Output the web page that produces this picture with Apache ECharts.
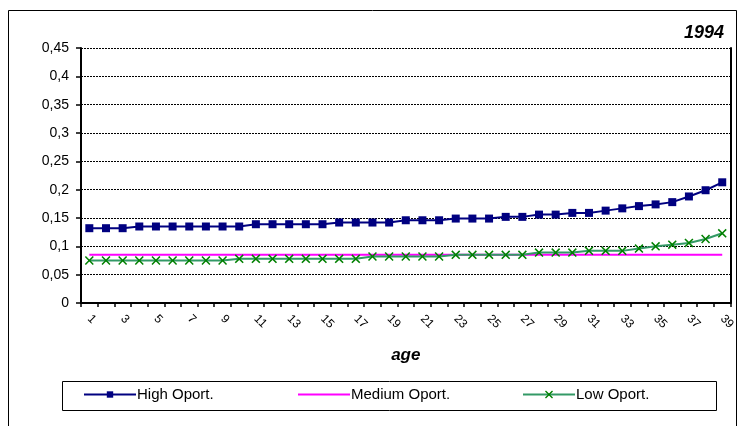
<!DOCTYPE html>
<html>
<head>
<meta charset="utf-8">
<script src="https://cdn.jsdelivr.net/npm/echarts@6/dist/echarts.min.js"></script>
<style>html,body{margin:0;padding:0;background:#fff}#c{width:738px;height:426px}</style>
</head>
<body>
<div id="c"></div>
<script>
var ages = [];
for (var i = 1; i <= 39; i++) ages.push(String(i));
var yTicks = [0, 0.05, 0.1, 0.15, 0.2, 0.25, 0.3, 0.35, 0.4, 0.45];
var highOport = [0.132,0.132,0.132,0.135,0.135,0.135,0.135,0.135,0.135,0.135,
  0.139,0.139,0.139,0.139,0.139,0.142,0.142,0.142,0.142,0.146,
  0.146,0.146,0.149,0.149,0.149,0.152,0.152,0.156,0.156,0.159,
  0.159,0.163,0.167,0.171,0.174,0.178,0.188,0.199,0.213];
var mediumOport = [0.085,0.085,0.085,0.085,0.085,0.085,0.085,0.085,0.085,0.085,
  0.085,0.085,0.085,0.085,0.085,0.085,0.085,0.085,0.085,0.085,
  0.085,0.085,0.085,0.085,0.085,0.085,0.085,0.085,0.085,0.085,
  0.085,0.085,0.085,0.085,0.085,0.085,0.085,0.085,0.085];
var lowOport = [0.075,0.075,0.075,0.075,0.075,0.075,0.075,0.075,0.075,0.078,
  0.078,0.078,0.078,0.078,0.078,0.078,0.078,0.082,0.082,0.082,
  0.082,0.082,0.085,0.085,0.085,0.085,0.085,0.089,0.089,0.089,
  0.092,0.092,0.092,0.096,0.100,0.103,0.106,0.113,0.123];

var xPath = 'path://M0,1.2 L1.2,0 L5,3.8 L8.8,0 L10,1.2 L6.2,5 L10,8.8 L8.8,10 L5,6.2 L1.2,10 L0,8.8 L3.8,5 Z';
var chart = echarts.init(document.getElementById('c'), null, {renderer: 'canvas'});
var font = 'Arial, "Liberation Sans", sans-serif';
var legText = {fontSize: 15, color: '#000', fontFamily: font, padding: [0,0,0,-4]};
chart.setOption({
  animation: false,
  backgroundColor: '#fff',
  textStyle: {fontFamily: font},
  title: {
    text: '1994', right: 9, top: 19,
    textStyle: {fontSize: 18, fontWeight: 'bold', fontStyle: 'italic', color: '#000', fontFamily: font}
  },
  graphic: [
    {type: 'rect', shape: {x: 8.5, y: 10.5, width: 728, height: 440}, style: {fill: 'none', stroke: '#000', lineWidth: 1}, silent: true},
    {type: 'rect', shape: {x: 62.5, y: 381.5, width: 654, height: 29}, style: {fill: 'none', stroke: '#000', lineWidth: 1}, silent: true}
  ],
  legend: [
    {data: ['High Oport.'], left: 83, top: 387, itemWidth: 52, itemHeight: 8, itemGap: 0, padding: 0, textStyle: legText},
    {data: [{name: 'Medium Oport.', icon: 'rect'}], left: 298, top: 387, itemWidth: 52, itemHeight: 2, itemGap: 0, padding: 0, textStyle: legText},
    {data: ['Low Oport.'], left: 522, top: 387, itemWidth: 52, itemHeight: 10, itemGap: 0, padding: 0, textStyle: legText}
  ],
  grid: {left: 81, right: 5, top: 48, bottom: 123, containLabel: false},
  xAxis: {
    type: 'category', data: ages, boundaryGap: true,
    name: 'age', nameLocation: 'middle', nameGap: 44,
    nameTextStyle: {fontSize: 17, fontWeight: 'bold', fontStyle: 'italic', color: '#000', fontFamily: font},
    axisLine: {lineStyle: {color: '#000', width: 2}},
    axisTick: {show: true, alignWithLabel: false, interval: 0, length: 4, lineStyle: {color: '#000', width: 1.5}},
    axisLabel: {interval: 1, rotate: -45, fontSize: 12, color: '#000', margin: 14, fontFamily: font},
    splitLine: {show: false}
  },
  yAxis: [{
    type: 'value', min: 0, max: 0.45, interval: 0.05,
    axisLine: {show: true, lineStyle: {color: '#000', width: 2}},
    axisTick: {show: true, length: 5, lineStyle: {color: '#000', width: 1.5}},
    axisLabel: {fontSize: 14, color: '#000', margin: 12, fontFamily: font,
      formatter: function (v) { return String(+v.toFixed(2)).replace('.', ','); }},
    splitLine: {show: true, lineStyle: {color: '#000', width: 1, type: [2, 1]}}
  }, {
    type: 'value', min: 0, max: 0.45, interval: 0.05, position: 'right',
    axisLine: {show: true, lineStyle: {color: '#000', width: 2}},
    axisTick: {show: false}, axisLabel: {show: false}, splitLine: {show: false}
  }],
  series: [
    {name: 'High Oport.', type: 'line', data: highOport, symbol: 'rect', symbolSize: 8,
     lineStyle: {color: '#000080', width: 2}, itemStyle: {color: '#000080'}},
    {name: 'Medium Oport.', type: 'line', data: mediumOport, symbol: 'none', showSymbol: false,
     lineStyle: {color: '#ff00ff', width: 2}, itemStyle: {color: '#ff00ff'}},
    {name: 'Low Oport.', type: 'line', data: lowOport, symbol: xPath, symbolSize: 9,
     lineStyle: {color: '#339966', width: 2}, itemStyle: {color: '#008000'}}
  ]
});
</script>
</body>
</html>
